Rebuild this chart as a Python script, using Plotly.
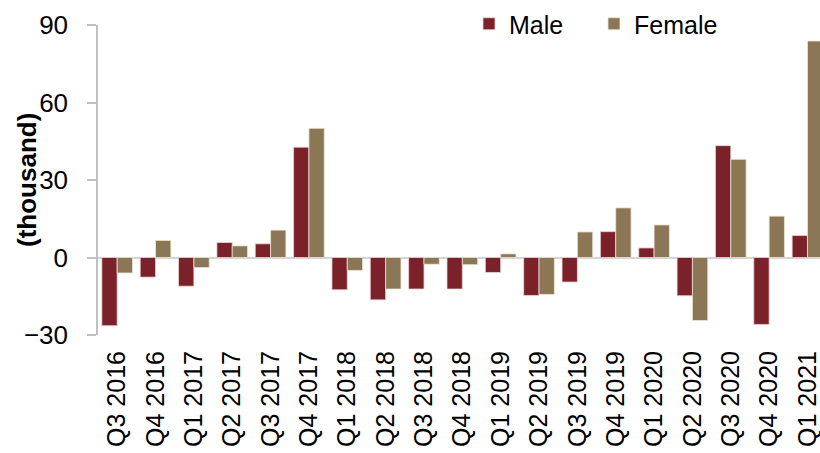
import plotly.graph_objects as go

quarters = ["Q3 2016", "Q4 2016", "Q1 2017", "Q2 2017", "Q3 2017", "Q4 2017",
            "Q1 2018", "Q2 2018", "Q3 2018", "Q4 2018", "Q1 2019", "Q2 2019",
            "Q3 2019", "Q4 2019", "Q1 2020", "Q2 2020", "Q3 2020", "Q4 2020", "Q1 2021"]
male = [-26.4, -7.6, -11.1, 5.8, 5.3, 42.7, -12.5, -16.4, -12.2, -12.2, -5.8, -14.7,
        -9.5, 10.0, 3.7, -14.8, 43.3, -25.9, 8.5]
female = [-6.0, 6.6, -3.9, 4.5, 10.6, 50.0, -5.0, -12.2, -2.6, -2.8, 1.4, -14.3,
          9.9, 19.2, 12.6, -24.4, 38.0, 16.0, 83.8]
y_ticks = [-30, 0, 30, 60, 90]

MALE_C = "#7B2129"
FEMALE_C = "#8B7755"
FONT = "Liberation Sans, Arial, sans-serif"

fig = go.Figure()
fig.add_trace(go.Bar(x=quarters, y=male, name="Male", marker_color=MALE_C,
                     marker_line=dict(color="#ead6d6", width=0.8)))
fig.add_trace(go.Bar(x=quarters, y=female, name="Female", marker_color=FEMALE_C,
                     marker_line=dict(color="#ece4d6", width=0.8)))

PLOT_H = 453 - 25 - 118
fig.update_layout(
    width=820, height=453,
    margin=dict(l=98, r=0, t=25, b=118, autoexpand=False),
    paper_bgcolor="white", plot_bgcolor="white",
    barmode="group", bargap=0.2, bargroupgap=0,
    font=dict(family=FONT, color="black"),
    legend=dict(orientation="h", x=(469 - 98) / 722, xanchor="left",
                y=1 + 24 / PLOT_H, yanchor="top",
                font=dict(size=25), itemwidth=30, entrywidth=80,
                traceorder="normal", bgcolor="rgba(0,0,0,0)", tracegroupgap=0),
    showlegend=True,
)
fig.update_xaxes(
    range=[-0.5, -0.5 + 722 / 38.35],
    showgrid=False, showline=False, zeroline=False,
    tickangle=-90, tickfont=dict(size=25), ticks="", ticklabelstandoff=10,
)
fig.update_yaxes(
    range=[-30, 90], tickvals=y_ticks, showgrid=False,
    showline=True, linecolor="#c0c0c0", linewidth=1.5,
    ticks="outside", ticklen=9, tickcolor="#c0c0c0", tickwidth=1.5,
    tickfont=dict(size=26), ticklabelstandoff=14,
    zeroline=True, zerolinecolor="#d4d4d4", zerolinewidth=2,
)
fig.add_annotation(
    text="<b>(thousand)</b>", textangle=-90, showarrow=False,
    xref="paper", yref="paper", x=(27 - 98) / 722, y=0.5,
    xanchor="center", yanchor="middle", font=dict(size=26, family=FONT),
)

fig.write_html(
    "out.html",
    config={"displayModeBar": False},
    post_script="document.body.style.margin='0';document.body.style.overflow='hidden';",
)
